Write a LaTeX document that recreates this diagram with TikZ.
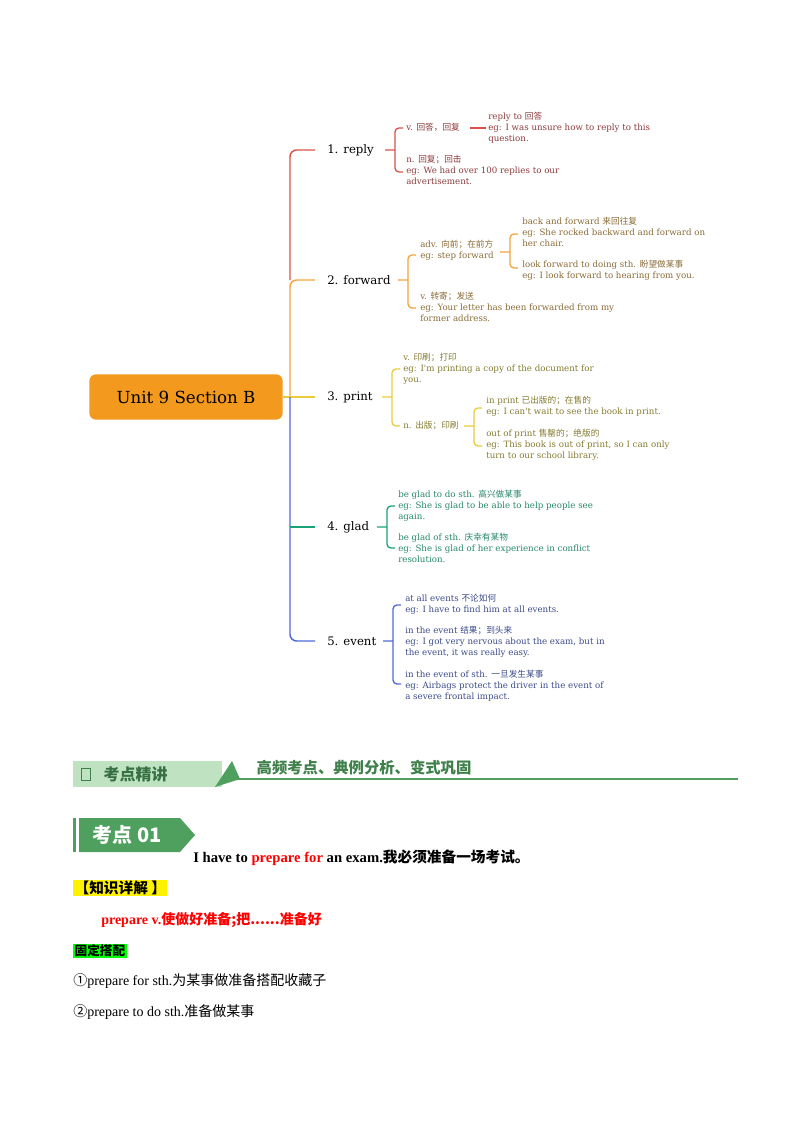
\documentclass[tikz,border=0pt]{standalone}
\usepackage{fontspec}
\setmainfont{Liberation Serif}
\newfontfamily\cjk{Noto Sans CJK SC}
\newfontfamily\mapfont{DejaVu Serif}
\newcommand{\zh}[1]{{\cjk #1}}
\definecolor{cReply}{HTML}{D9534A}
\definecolor{cFwd}{HTML}{F2A43A}
\definecolor{cRoot}{HTML}{F39A1E}
\definecolor{cPrint}{HTML}{EBCB3A}
\definecolor{cGlad}{HTML}{1AA37A}
\definecolor{cEvent}{HTML}{5068D8}
\definecolor{tReply}{HTML}{8B3A3A}
\definecolor{tFwd}{HTML}{8A6A35}
\definecolor{tPrint}{HTML}{857A30}
\definecolor{tGlad}{HTML}{25876A}
\definecolor{tEvent}{HTML}{3A4A8A}
\definecolor{bannerLight}{HTML}{BFE3C0}
\definecolor{bannerDark}{HTML}{4FA05E}
\begin{document}
\begin{tikzpicture}[x=0.75pt,y=-0.75pt,
  leaf/.style={anchor=north west,align=left,inner sep=0pt,font=\mapfont\fontsize{6.5}{8.2}\selectfont},
  topic/.style={anchor=west,inner sep=0pt,font=\mapfont\fontsize{8.8}{10}\selectfont},
  trunk/.style={line width=1.1pt,rounded corners=5pt},
  brace/.style={line width=1pt,rounded corners=3pt},
  body/.style={anchor=west,inner sep=0pt,font=\fontsize{10.5}{12}\selectfont}]%
  \useasboundingbox (0,0) rectangle (800,1132);
  % central node
  \node[fill=cRoot,rounded corners=5pt,minimum width=145pt,minimum height=34pt,
        font=\mapfont\fontsize{12.5}{14}\selectfont] (root) at (186,397) {Unit 9 Section B};
  % topics
  \node[topic] (reply) at (327,150) {1. reply};
  \node[topic] (fwd) at (327,280) {2. forward};
  \node[topic] (print) at (327,397) {3. print};
  \node[topic] (glad) at (327,527) {4. glad};
  \node[topic] (event) at (327,641) {5. event};
  \coordinate (T) at (290,397);
  \draw[trunk,cReply] (T |- fwd) -- (T |- reply) -- (315,150);
  \draw[trunk,cFwd] (T) -- (T |- fwd) -- (315,280);
  \draw[cPrint,line width=1.1pt] (root.east) -- (315,397);
  \draw[trunk,cEvent] (T) -- (T |- event) -- (315,641);
  \draw[cGlad,line width=1.1pt] (T |- glad) -- (315,527);

  % 1. reply
  \draw[brace,cReply] (385,150) -- (395,150) (403,128) -- (395,128) -- (395,172) -- (403,172);
  \node[leaf,text=tReply] (replyV) at (406,123) {v. \zh{回答，回复}};
  \draw[cReply,line width=0.8pt] (470,128) -- (486,128);
  \node[leaf,text=tReply] (replyTo) at (488,112) {reply to \zh{回答}\\eg: I was unsure how to reply to this\\question.};
  \node[leaf,text=tReply] (replyN) at (406,155) {n. \zh{回复；回击}\\eg: We had over 100 replies to our\\advertisement.};

  % 2. forward
  \draw[brace,cFwd] (398,280) -- (408,280) (416,255) -- (408,255) -- (408,308) -- (416,308);
  \node[leaf,text=tFwd] (fwdAdv) at (420,240) {adv. \zh{向前；在前方}\\eg: step forward};
  \draw[brace,cFwd] (500,252) -- (510,252) (518,234) -- (510,234) -- (510,268) -- (518,268);
  \node[leaf,text=tFwd] (backFwd) at (522,217) {back and forward \zh{来回往复}\\eg: She rocked backward and forward on\\her chair.};
  \node[leaf,text=tFwd] (lookFwd) at (522,260) {look forward to doing sth. \zh{盼望做某事}\\eg: I look forward to hearing from you.};
  \node[leaf,text=tFwd] (fwdV) at (420,292) {v. \zh{转寄；发送}\\eg: Your letter has been forwarded from my\\former address.};

  % 3. print
  \draw[brace,cPrint] (382,397) -- (392,397) (400,369) -- (392,369) -- (392,426) -- (400,426);
  \node[leaf,text=tPrint] (printV) at (403,353) {v. \zh{印刷；打印}\\eg: I'm printing a copy of the document for\\you.};
  \node[leaf,text=tPrint] (printN) at (403,421) {n. \zh{出版；印刷}};
  \draw[brace,cPrint] (464,426) -- (474,426) (482,408) -- (474,408) -- (474,446) -- (482,446);
  \node[leaf,text=tPrint] (inPrint) at (486,396) {in print \zh{已出版的；在售的}\\eg: I can't wait to see the book in print.};
  \node[leaf,text=tPrint] (outPrint) at (486,429) {out of print \zh{售罄的；绝版的}\\eg: This book is out of print, so I can only\\turn to our school library.};

  % 4. glad
  \draw[brace,cGlad] (377,527) -- (387,527) (395,506) -- (387,506) -- (387,548) -- (395,548);
  \node[leaf,text=tGlad] (gladTo) at (398,490) {be glad to do sth. \zh{高兴做某事}\\eg: She is glad to be able to help people see\\again.};
  \node[leaf,text=tGlad] (gladOf) at (398,533) {be glad of sth. \zh{庆幸有某物}\\eg: She is glad of her experience in conflict\\resolution.};

  % 5. event
  \draw[brace,cEvent] (383,641) -- (393,641) (401,605) -- (393,605) -- (393,684) -- (401,684);
  \node[leaf,text=tEvent] (allEvents) at (405,594) {at all events \zh{不论如何}\\eg: I have to find him at all events.};
  \node[leaf,text=tEvent] (inEvent) at (405,626) {in the event \zh{结果；到头来}\\eg: I got very nervous about the exam, but in\\the event, it was really easy.};
  \node[leaf,text=tEvent] (eventOf) at (405,670) {in the event of sth. \zh{一旦发生某事}\\eg: Airbags protect the driver in the event of\\a severe frontal impact.};

  % banner
  \fill[bannerLight] (73,761) rectangle (222,787);
  \fill[bannerDark] (215,787) -- (232,761) -- (240,779) -- cycle;
  \draw[bannerDark,line width=1.3pt] (230,779) -- (738,779);
  \draw[bannerDark!80!black,line width=0.6pt] (81,768) rectangle (90,780);
  \node[anchor=west,text=bannerDark!70!black,font=\cjk\bfseries\fontsize{12}{14}\selectfont] (bannerTitle) at (99,774) {考点精讲};
  \node[anchor=west,text=bannerDark!80!black,font=\cjk\bfseries\fontsize{11.5}{13}\selectfont] (bannerSub) at (252,768) {高频考点、典例分析、变式巩固};
  % tag
  \fill[bannerDark] (73,818) rectangle (76,852);
  \fill[bannerDark] (79,818) -- (180,818) -- (195,835) -- (180,852) -- (79,852) -- cycle;
  \node[anchor=west,text=white,font=\cjk\bfseries\fontsize{15}{17}\selectfont] (tag) at (88,835) {考点 01};
  % body text
  \node[body,font=\bfseries\fontsize{11}{13}\selectfont] (sentence) at (193,858) {I have to \textcolor{red}{prepare for} an exam.\zh{我必须准备一场考试。}};
  \node[body,fill=yellow,inner sep=1pt,font=\cjk\bfseries\fontsize{11}{13}\selectfont] (kw) at (73,888) {【知识详解 】};
  \node[body,text=red,font=\bfseries\fontsize{10.5}{12}\selectfont] (def) at (101,920) {prepare v.\zh{使做好准备;把......准备好}};
  \node[body,fill=green,inner sep=1pt,font=\cjk\bfseries\fontsize{9.5}{11}\selectfont] (gd) at (73,951) {固定搭配};
  \node[body] (item1) at (73,981) {\zh{①}prepare for sth.\zh{为某事做准备搭配收藏子}};
  \node[body] (item2) at (73,1012) {\zh{②}prepare to do sth.\zh{准备做某事}};
\end{tikzpicture}
\end{document}
